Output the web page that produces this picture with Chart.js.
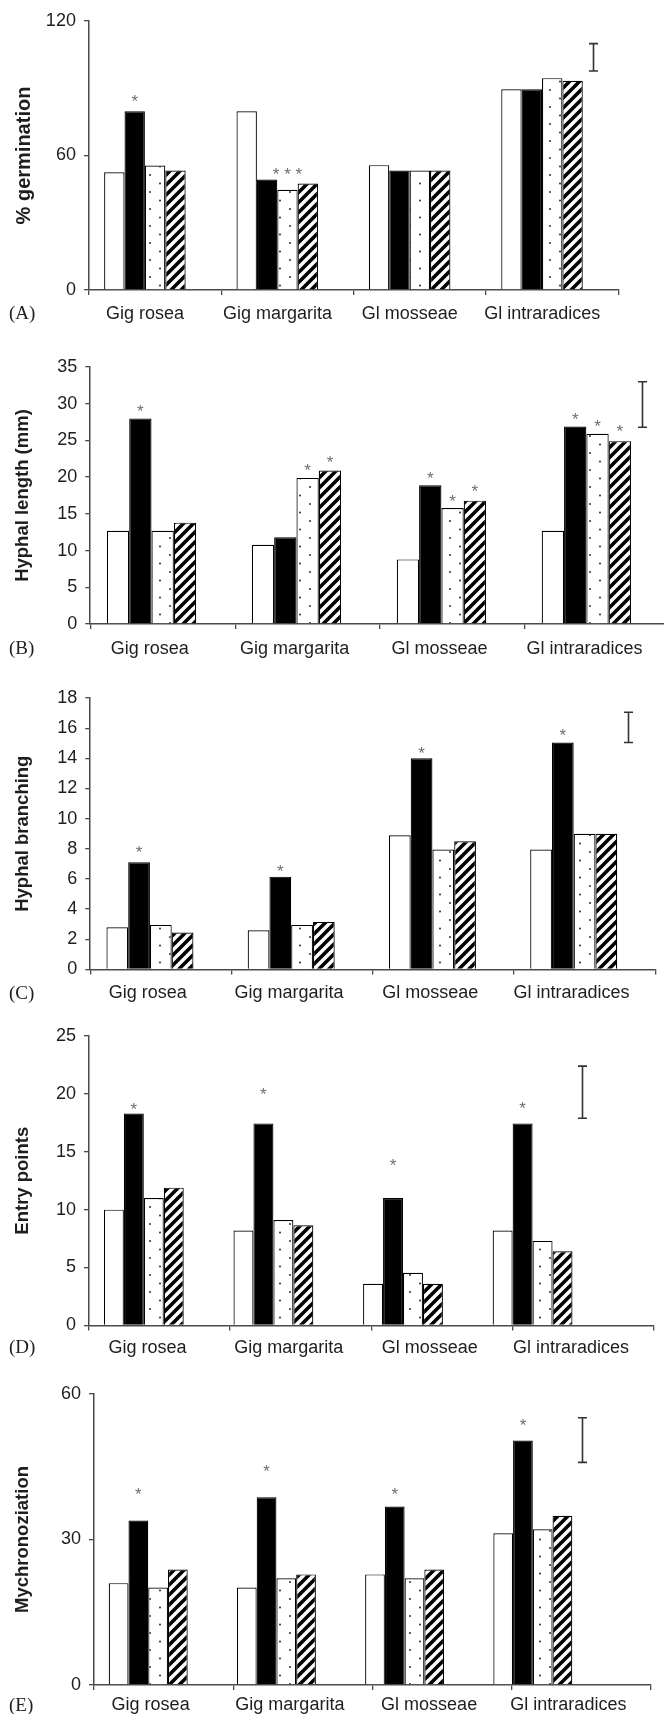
<!DOCTYPE html>
<html><head><meta charset="utf-8">
<script src="https://cdn.jsdelivr.net/npm/chart.js@4.4.0/dist/chart.umd.min.js"></script>
<style>
html,body{margin:0;padding:0;background:#fff;overflow:hidden;width:664px;height:1714px;position:relative;}
canvas{position:absolute;left:0;}
.pl{position:absolute;left:9px;font:19px "Liberation Serif","Times New Roman",serif;color:#222;line-height:22px;}
</style></head><body>
<canvas id="cA"></canvas><canvas id="cB"></canvas><canvas id="cC"></canvas><canvas id="cD"></canvas><canvas id="cE"></canvas>
<script>
// ---------- DATA ----------
const categories = ["Gig rosea", "Gig margarita", "Gl mosseae", "Gl intraradices"];
const seriesNames = ["Series 1 (open)", "Series 2 (solid)", "Series 3 (dotted)", "Series 4 (hatched)"];

// (A) % germination
const germWhite   = [52.5, 79.7, 55.7, 89.5];
const germBlack   = [79.7, 49.3, 53.3, 89.5];
const germDotted  = [55.5, 44.7, 53.3, 94.5];
const germHatched = [53.3, 47.5, 53.3, 93.3];
const germErr     = [97.7, 109.9];
const germTicks   = [0, 60, 120];
const germStars   = [[0, 1, 86, "*"], [1, 2, 53.3, "* * *"]];

// (B) Hyphal length (mm)
const lenWhite   = [12.7, 10.8, 8.8, 12.7];
const lenBlack   = [28.0, 11.8, 18.9, 26.9];
const lenDotted  = [12.7, 19.9, 15.8, 25.9];
const lenHatched = [13.8, 20.9, 16.8, 24.9];
const lenErr     = [26.8, 33.0];
const lenTicks   = [0, 5, 10, 15, 20, 25, 30, 35];
const lenStars   = [[0,1,29.5,"*"],[1,2,21.5,"*"],[1,3,22.6,"*"],[2,1,20.4,"*"],[2,2,17.2,"*"],[2,3,18.6,"*"],[3,1,28.4,"*"],[3,2,27.5,"*"],[3,3,26.8,"*"]];

// (C) Hyphal branching
const brWhite   = [2.8, 2.6, 8.9, 7.95];
const brBlack   = [7.1, 6.15, 14.0, 15.05];
const brDotted  = [2.95, 2.95, 7.95, 9.0];
const brHatched = [2.45, 3.15, 8.5, 9.0];
const brErr     = [15.05, 17.05];
const brTicks   = [0, 2, 4, 6, 8, 10, 12, 14, 16, 18];
const brStars   = [[0,1,8.06,"*"],[1,1,6.74,"*"],[2,1,14.58,"*"],[3,1,15.8,"*"]];

// (D) Entry points
const entWhite   = [10.0, 8.2, 3.6, 8.2];
const entBlack   = [18.3, 17.45, 11.0, 17.45];
const entDotted  = [11.0, 9.1, 4.55, 7.3];
const entHatched = [11.9, 8.65, 3.6, 6.4];
const entErr     = [17.9, 22.4];
const entTicks   = [0, 5, 10, 15, 20, 25];
const entStars   = [[0,1,19.03,"*"],[1,1,20.33,"*"],[2,1,14.2,"*"],[3,1,19.1,"*"]];

// (E) Mychronoziation
const mycWhite   = [21.0, 20.1, 22.8, 31.3];
const mycBlack   = [33.9, 38.7, 36.8, 50.4];
const mycDotted  = [20.1, 22.0, 22.0, 32.1];
const mycHatched = [23.8, 22.8, 23.8, 34.9];
const mycErr     = [45.9, 55.1];
const mycTicks   = [0, 30, 60];
const mycStars   = [[0,1,40.1,"*"],[1,1,44.9,"*"],[2,1,40.2,"*"],[3,1,54.3,"*"]];

// ---------- LAYOUT / STYLE ----------
const panels = [
  {canvas:'cA', tag:'(A)', title:'% germination', titleSize:20, series:[germWhite,germBlack,germDotted,germHatched], err:germErr, ticks:germTicks, stars:germStars,
   left:88.9, right:618.4, top:20.7, bottom:289.3, labelY:313.3, labelOffset:-10, xbMax:3.5},
  {canvas:'cB', tag:'(B)', title:'Hyphal length (mm)', titleSize:18.5, series:[lenWhite,lenBlack,lenDotted,lenHatched], err:lenErr, ticks:lenTicks, stars:lenStars,
   left:90.2, right:670, top:366.7, bottom:623.3, labelY:648.3, labelOffset:-13, xbMax:3.5},
  {canvas:'cC', tag:'(C)', title:'Hyphal branching', titleSize:18.5, series:[brWhite,brBlack,brDotted,brHatched], err:brErr, ticks:brTicks, stars:brStars,
   left:90.2, right:655.2, top:698.3, bottom:970, labelY:993.3, labelOffset:-13, xbMax:3.5},
  {canvas:'cD', tag:'(D)', title:'Entry points', titleSize:18.5, series:[entWhite,entBlack,entDotted,entHatched], err:entErr, ticks:entTicks, stars:entStars,
   left:89, right:653.5, top:1036, bottom:1325, labelY:1347.3, labelOffset:-12, xbMax:3.856},
  {canvas:'cE', tag:'(E)', title:'Mychronoziation', titleSize:18.5, series:[mycWhite,mycBlack,mycDotted,mycHatched], err:mycErr, ticks:mycTicks, stars:mycStars,
   left:94, right:651, top:1394, bottom:1685, labelY:1705, labelOffset:-13, xbMax:3.845}
];

const CANVAS_W = 680, PAD_TOP = 20, PAD_LEFT = 8, PAD_BOTTOM = 4;
const TICK_FS = 18, TICK_LH = 1.2, TL = 5;
const AXIS_COLOR = '#4a4a4a', TEXT_COLOR = '#1e1e1e';

Chart.defaults.font.family = '"Liberation Sans", Arial, Helvetica, sans-serif';
Chart.defaults.color = TEXT_COLOR;

function makeDots() {
  const c = document.createElement('canvas'); c.width = 20; c.height = 17;
  const g = c.getContext('2d');
  g.fillStyle = '#fff'; g.fillRect(0, 0, 20, 17);
  g.fillStyle = '#222';
  [[10, 4], [0, 12.5], [20, 12.5]].forEach(([x, y]) => { g.beginPath(); g.arc(x, y, 0.95, 0, Math.PI * 2); g.fill(); });
  return g.createPattern(c, 'repeat');
}
function makeHatch() {
  const c = document.createElement('canvas'); c.width = 10; c.height = 10;
  const g = c.getContext('2d');
  g.fillStyle = '#fff'; g.fillRect(0, 0, 10, 10);
  g.strokeStyle = '#000'; g.lineWidth = 3.6; g.lineCap = 'square';
  [[-5, 5, 5, -5], [0, 10, 10, 0], [5, 15, 15, 5]].forEach(([a, b, c2, d]) => { g.beginPath(); g.moveTo(a, b); g.lineTo(c2, d); g.stroke(); });
  return g.createPattern(c, 'repeat');
}
const fills = ['#ffffff', '#000000', makeDots(), makeHatch()];

const annotPlugin = {
  id: 'annot',
  afterDatasetsDraw(chart, args, opts) {
    const ctx = chart.ctx, y = chart.scales.y;
    // scale bar (error bar) on the 5th slot
    const el = chart.getDatasetMeta(4).data[0];
    if (el) {
      const x = Math.round(el.x) + 0.5, lo = y.getPixelForValue(opts.err[0]), hi = y.getPixelForValue(opts.err[1]);
      ctx.save(); ctx.strokeStyle = '#333'; ctx.lineWidth = 1.6;
      ctx.beginPath(); ctx.moveTo(x, lo); ctx.lineTo(x, hi);
      ctx.moveTo(x - 4.5, lo); ctx.lineTo(x + 4.5, lo); ctx.moveTo(x - 4.5, hi); ctx.lineTo(x + 4.5, hi); ctx.stroke();
      ctx.restore();
    }
    // significance marks
    ctx.save(); ctx.fillStyle = '#6e6e6e'; ctx.font = '17px "Liberation Sans", Arial, sans-serif';
    ctx.textAlign = 'center'; ctx.textBaseline = 'alphabetic';
    opts.stars.forEach(([cat, ser, val, txt]) => {
      const b = chart.getDatasetMeta(ser).data[cat];
      ctx.fillText(txt, b.x, y.getPixelForValue(val) + 0.57 * 17);
    });
    ctx.restore();
  }
};

panels.forEach(p => {
  const cv = document.getElementById(p.canvas);
  const pad = p.labelY - p.bottom - TL - TICK_FS * TICK_LH / 2;
  const axisH = TL + TICK_FS * TICK_LH + 2 * pad;
  const cTop = p.top - PAD_TOP;
  const H = Math.round(p.bottom - cTop + axisH + PAD_BOTTOM);
  cv.width = CANVAS_W; cv.height = H; cv.style.top = cTop + 'px';
  cv.style.width = CANVAS_W + 'px'; cv.style.height = H + 'px';

  const tag = document.createElement('div'); tag.className = 'pl'; tag.textContent = p.tag;
  tag.style.top = (p.labelY - 11) + 'px'; document.body.appendChild(tag);

  const datasets = p.series.map((vals, si) => ({
    label: seriesNames[si],
    data: vals.map((v, i) => ({x: i, y: v})),
    backgroundColor: fills[si], borderColor: '#000', borderWidth: 1.2,
    xAxisID: 'xb', yAxisID: 'y'
  }));
  datasets.push({label: 'scale bar', data: [{x: 3, y: p.err}], backgroundColor: 'rgba(0,0,0,0)', borderWidth: 0, xAxisID: 'xb', yAxisID: 'y'});

  new Chart(cv, {
    type: 'bar',
    data: {datasets},
    options: {
      responsive: false, animation: false, devicePixelRatio: 1,
      layout: {padding: {top: PAD_TOP, left: PAD_LEFT, right: CANVAS_W - p.right, bottom: PAD_BOTTOM}},
      datasets: {bar: {categoryPercentage: 0.77, barPercentage: 1.0, grouped: true}},
      plugins: {legend: {display: false}, tooltip: {enabled: false}, annot: {err: p.err, stars: p.stars}},
      scales: {
        xb: {type: 'linear', axis: 'x', position: 'bottom', display: false, offset: false, min: -0.5, max: p.xbMax,
             afterBuildTicks: s => { s.ticks = categories.map((c, i) => ({value: i})); }},
        x: {type: 'category', axis: 'x', position: 'bottom', labels: categories, offset: true,
            grid: {display: true, offset: true, drawOnChartArea: false, drawTicks: true, tickLength: TL, color: AXIS_COLOR, lineWidth: 1.3},
            border: {display: true, color: AXIS_COLOR, width: 1.5},
            ticks: {font: {size: TICK_FS, lineHeight: TICK_LH}, color: TEXT_COLOR, padding: pad, labelOffset: p.labelOffset, maxRotation: 0, minRotation: 0, autoSkip: false}},
        y: {type: 'linear', position: 'left', min: p.ticks[0], max: p.ticks[p.ticks.length - 1],
            afterFit: s => { s.width = p.left - PAD_LEFT; },
            afterBuildTicks: s => { s.ticks = p.ticks.map(v => ({value: v})); },
            grid: {display: true, drawOnChartArea: false, drawTicks: true, tickLength: TL, color: AXIS_COLOR, lineWidth: 1.3},
            border: {display: true, color: AXIS_COLOR, width: 1.5},
            ticks: {font: {size: TICK_FS, lineHeight: TICK_LH}, color: TEXT_COLOR, padding: 8},
            title: {display: true, text: p.title, color: TEXT_COLOR, font: {size: p.titleSize, weight: 'bold', lineHeight: 1.2}, padding: {top: 4, bottom: 4}}}
      }
    },
    plugins: [annotPlugin]
  });
});
</script>
</body></html>
